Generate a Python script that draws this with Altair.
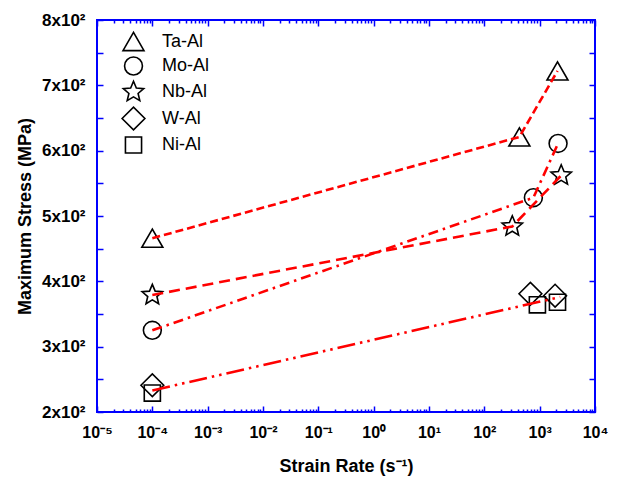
import altair as alt
import pandas as pd

# ---- data ----
series = ["Ta-Al", "Mo-Al", "Nb-Al", "W-Al", "Ni-Al"]
STAR = ("M0,-1L0.2645,-0.3641L0.9511,-0.309L0.428,0.1391L0.5878,0.809L0,0.45"
        "L-0.5878,0.809L-0.428,0.1391L-0.9511,-0.309L-0.2645,-0.3641Z")
DIAMOND = "M-1,0L0,-1L1,0L0,1Z"
shapes = ["triangle-up", "circle", STAR, DIAMOND, "square"]
marker_sizes = [440, 320, 460, 520, 260]

ta_rate = [1e-4, 430, 2100]
ta_stress = [466, 621, 722]
mo_rate = [1e-4, 770, 2150]
mo_stress = [325, 528, 611]
nb_rate = [1e-4, 320, 2450]
nb_stress = [379, 484, 562]
w_rate = [1e-4, 680, 1900]
w_stress = [241, 381, 378]
ni_rate = [1e-4, 910, 2100]
ni_stress = [229, 364, 368]

fit_rate = [1e-4, 2350]
fit_stress = [233, 376]

line_names = ["Ta-Al", "Mo-Al", "Nb-Al"]
line_dashes = [[8, 4], [10, 5, 2.5, 5], [11, 6]]
fit_dash = [18, 5, 2.5, 5, 2.5, 5]

x_exponents = [-5, -4, -3, -2, -1, 0, 1, 2, 3, 4]
x_tick_labels = ["10⁻⁵", "10⁻⁴", "10⁻³", "10⁻²", "10⁻¹",
                 "10⁰", "10¹", "10²", "10³", "10⁴"]
y_tick_values = [200, 300, 400, 500, 600, 700, 800]
y_tick_labels = ["2x10²", "3x10²", "4x10²", "5x10²", "6x10²", "7x10²", "8x10²"]
y_minor_values = [200, 250, 300, 350, 400, 450, 500, 550, 600, 650, 700, 750, 800]

# ---- tables ----
rates = [ta_rate, mo_rate, nb_rate, w_rate, ni_rate]
stresses = [ta_stress, mo_stress, nb_stress, w_stress, ni_stress]
pts = []
for name, rr, ss in zip(series, rates, stresses):
    for r, s in zip(rr, ss):
        pts.append({"series": name, "rate": r, "stress": s})
pts_df = pd.DataFrame(pts)

lines = []
for name, rr, ss in zip(series[:3], rates[:3], stresses[:3]):
    for r, s in zip(rr, ss):
        lines.append({"line": name, "rate": r, "stress": s})
line_df = pd.DataFrame(lines)
fit_df = pd.DataFrame({"rate": fit_rate, "stress": fit_stress})

decades = [10.0 ** e for e in x_exponents]
minors = [m * 10.0 ** e for e in x_exponents[:-1] for m in range(2, 10)]
x_all_ticks = sorted(decades + minors)

W, H = 498, 392
BLUE = "#0000ff"
RED = "#ff0000"
FONT = "Liberation Sans"

xlab_expr = "".join(
    f"round(log(datum.value)/LN10)=={e} ? '{lab}' : " for e, lab in zip(x_exponents, x_tick_labels)
) + "''"
ylab_expr = "".join(
    f"datum.value=={v} ? '{lab}' : " for v, lab in zip(y_tick_values, y_tick_labels)
) + "''"
major_test = "abs(log(datum.value)/LN10 - round(log(datum.value)/LN10)) < 0.001"

xscale = alt.Scale(type="log", domain=[1e-5, 1e4])
yscale = alt.Scale(domain=[200, 800], nice=False)

# label axes
ax_x_labels = alt.Axis(orient="bottom", values=decades, labelExpr=xlab_expr, ticks=False,
                       tickSize=0, domain=False, grid=False, labelFont=FONT, labelFontSize=16,
                       labelFontWeight="bold", labelColor="black", labelPadding=12,
                       labelFlush=False, labelOverlap=False,
                       title="Strain Rate (s⁻¹)", titleFont=FONT, titleFontSize=18,
                       titleFontWeight="bold", titleColor="black", titleX=W / 2, titleY=54,
                       titleBaseline="middle", titleAlign="center")
ax_y_labels = alt.Axis(orient="left", values=y_tick_values, labelExpr=ylab_expr, ticks=False,
                       tickSize=0, domain=False, grid=False, labelFont=FONT, labelFontSize=17,
                       labelFontWeight="bold", labelColor="black", labelPadding=12,
                       labelFlush=False, labelOverlap=False,
                       title="Maximum Stress (MPa)", titleFont=FONT, titleFontSize=18,
                       titleFontWeight="bold", titleColor="black", titleX=-72, titleY=H / 2,
                       titleBaseline="middle", titleAlign="center", titleAngle=270)

tick_size_x = {"condition": {"test": major_test, "value": 6}, "value": 3}

# inward ticks: bottom edge (orient top moved down), top edge (orient bottom moved up)
ax_x_bottom_in = alt.Axis(orient="top", offset=-H, values=x_all_ticks, labels=False, domain=False,
                          grid=False, tickSize=tick_size_x, tickColor=BLUE, tickWidth=1.5, title=None)
ax_x_top_in = alt.Axis(orient="bottom", offset=-H, values=x_all_ticks, labels=False, domain=False,
                       grid=False, tickSize=tick_size_x, tickColor=BLUE, tickWidth=1.5, title=None)
ax_y_left_in = alt.Axis(orient="right", offset=-W, values=y_minor_values, labels=False, domain=False,
                        grid=False, tickSize=6, tickColor=BLUE, tickWidth=1.5, title=None)
ax_y_right_in = alt.Axis(orient="left", offset=-W, values=y_minor_values, labels=False, domain=False,
                         grid=False, tickSize=6, tickColor=BLUE, tickWidth=1.5, title=None)

points = alt.Chart(pts_df).mark_point(filled=False, color="black", strokeWidth=1.6, opacity=1).encode(
    x=alt.X("rate:Q", scale=xscale, axis=ax_x_labels),
    y=alt.Y("stress:Q", scale=yscale, axis=ax_y_labels),
    shape=alt.Shape("series:N", scale=alt.Scale(domain=series, range=shapes),
                    legend=alt.Legend(title=None, orient="none", legendX=24, legendY=10,
                                      labelFont=FONT, labelFontSize=18, labelColor="black",
                                      symbolStrokeColor="black", symbolFillColor="transparent",
                                      symbolStrokeWidth=1.6, labelOffset=16, rowPadding=-1,
                                      padding=0)),
    size=alt.Size("series:N", scale=alt.Scale(type="ordinal", domain=series, range=marker_sizes),
                  legend=alt.Legend(title=None, orient="none", legendX=24, legendY=10)),
)

line_layer = alt.Chart(line_df).mark_line(color=RED, strokeWidth=2.6).encode(
    x=alt.X("rate:Q", scale=xscale, axis=ax_x_bottom_in),
    y=alt.Y("stress:Q", scale=yscale, axis=ax_y_left_in),
    strokeDash=alt.StrokeDash("line:N", scale=alt.Scale(domain=line_names, range=line_dashes),
                              legend=None),
)

fit_layer = alt.Chart(fit_df).mark_line(color=RED, strokeWidth=2.6, strokeDash=fit_dash).encode(
    x=alt.X("rate:Q", scale=xscale, axis=ax_x_top_in),
    y=alt.Y("stress:Q", scale=yscale, axis=ax_y_right_in),
)

chart = alt.layer(points, line_layer, fit_layer).resolve_axis(
    x="independent", y="independent"
).properties(
    width=W, height=H, autosize="none",
    padding={"left": 97, "top": 20, "right": 24, "bottom": 68},
    background="white",
).configure_view(stroke=BLUE, strokeWidth=2)

chart.save("out.html", embed_options={"renderer": "svg", "actions": False})
